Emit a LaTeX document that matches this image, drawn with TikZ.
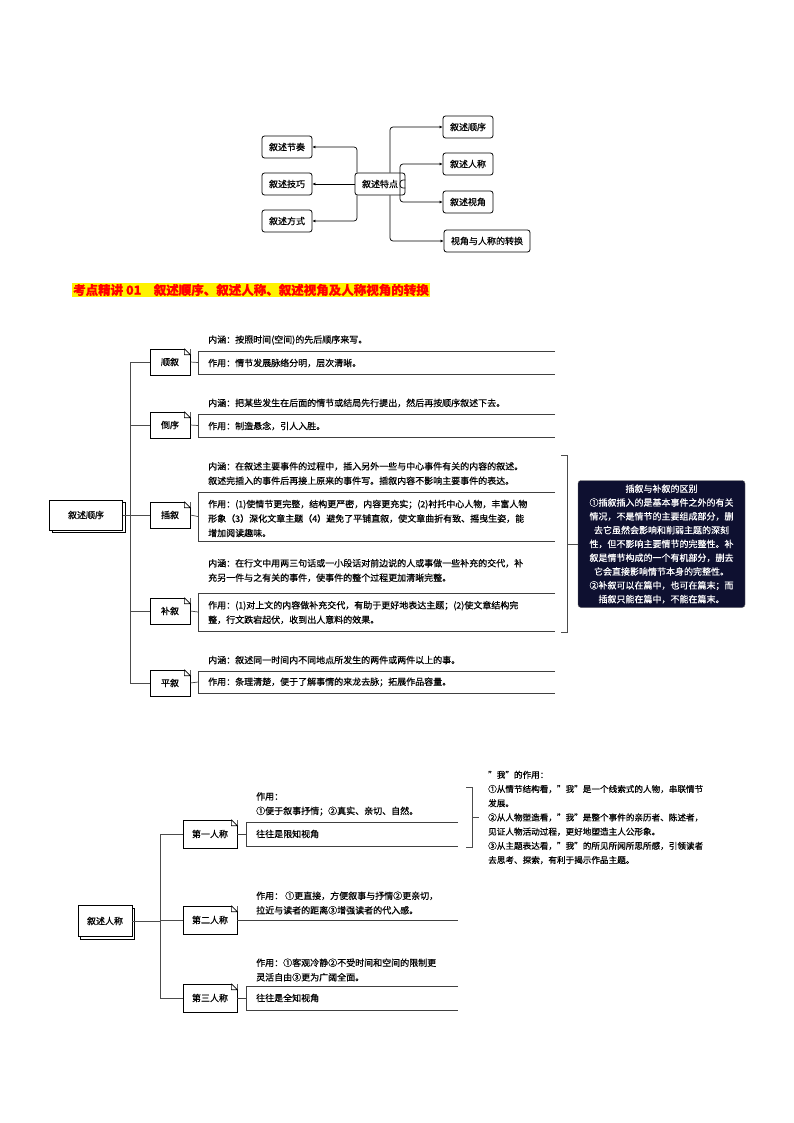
\documentclass[tikz,border=0pt]{standalone}
\usepackage{fontspec}
\setmainfont{Noto Sans CJK SC}[FakeBold=0.6]
\usetikzlibrary{shadows,arrows.meta}
\begin{document}
\begin{tikzpicture}[x=1pt,y=-1pt,
  rbox/.style={draw,rounded corners=2.5pt,line width=0.8pt,minimum height=22pt,inner xsep=7pt,font=\fontsize{9}{10}\selectfont},
  arr/.style={-{Latex[length=3pt,width=3pt]},line width=0.7pt},
  note/.style={draw,fill=white,minimum width=40pt,minimum height=26pt,font=\fontsize{9}{11}\selectfont,line width=0.6pt},
  stack/.style={draw,fill=white,copy shadow={shadow xshift=2.5pt,shadow yshift=-2.5pt},minimum width=73pt,minimum height=30pt,font=\fontsize{9}{11}\selectfont,line width=0.6pt},
  txt/.style={anchor=west,inner sep=0pt,align=left,font=\fontsize{9}{14.5}\selectfont},
  ln/.style={line width=0.7pt,draw=black!75},
  tr/.style={line width=0.7pt,draw=black!70}]
\useasboundingbox (0,0) rectangle (794,1123);
% ---- top mindmap
\node[rbox] (c) at (380,184) {叙述特点};
\node[rbox] (l1) at (287,147) {叙述节奏};
\node[rbox] (l2) at (287,184) {叙述技巧};
\node[rbox] (l3) at (287,221) {叙述方式};
\node[rbox] (r1) at (468,127) {叙述顺序};
\node[rbox] (r2) at (468,164) {叙述人称};
\node[rbox] (r3) at (468,202) {叙述视角};
\node[rbox] (r4) at (487,241) {视角与人称的转换};
\draw[arr,rounded corners=3pt] (c.north -| 357,0) |- (l1.east);
\draw[arr] (c.west) -- (l2.east);
\draw[arr,rounded corners=3pt] (c.south -| 357,0) |- (l3.east);
\draw[arr,rounded corners=3pt] (c.north -| 390,0) |- (r1.west);
\draw[arr,rounded corners=3pt] ([yshift=-4]c.east) -| (400,164) -- (r2.west);
\draw[arr,rounded corners=3pt] ([yshift=4]c.east) -| (400,202) -- (r3.west);
\draw[arr,rounded corners=3pt] (c.south -| 390,0) |- (r4.west);
% ---- header
\node[anchor=west,fill=yellow,text=red,inner sep=1pt,font=\fontsize{12.5}{14}\selectfont\bfseries] (hd) at (72,290) {考点精讲 01\quad 叙述顺序、叙述人称、叙述视角及人称视角的转换};
% ---- section 2
\node[stack] (s) at (86,515) {叙述顺序};
\foreach \n/\t/\y in {a/顺叙/362,b/倒序/425,d/插叙/515,e/补叙/611,f/平叙/683}{
  \node[note] (\n) at (170,\y) {\t};
  \fill[white] ([xshift=-6]\n.north east) -- (\n.north east) -- ([yshift=-6]\n.north east) -- cycle;
  \draw[line width=0.6pt] ([xshift=-6]\n.north east) -- ([xshift=-6,yshift=-6]\n.north east) -- ([yshift=-6]\n.north east) -- ([xshift=-6]\n.north east);
}
\coordinate (tk) at (130,0);
\draw[tr] (s.east) -- (s.east -| tk);
\draw[tr] (tk |- a) -- (tk |- f);
\foreach \n in {a,b,d,e,f}{\draw[tr] (tk |- \n) -- (\n.west);}
\newcommand{\blk}[4]{%
  \draw[ln] (#1.east) -- (198,#2 / 2 + #3 / 2);
  \draw[ln] (555,#2) -- (198,#2) -- (198,#3) -- (555,#3);}
\blk{a}{351}{374}{}
\blk{b}{414}{437}{}
\blk{d}{492}{541}{}
\blk{e}{593}{631}{}
\blk{f}{671}{693}{}
\node[txt] (a1) at (208,340) {内涵：按照时间(空间)的先后顺序来写。};
\node[txt] (a2) at (208,363) {作用：情节发展脉络分明，层次清晰。};
\node[txt] (b1) at (208,403) {内涵：把某些发生在后面的情节或结局先行提出，然后再按顺序叙述下去。};
\node[txt] (b2) at (208,426) {作用：制造悬念，引人入胜。};
\node[txt] (d1) at (208,473.5) {内涵：在叙述主要事件的过程中，插入另外一些与中心事件有关的内容的叙述。\\叙述完插入的事件后再接上原来的事件写。插叙内容不影响主要事件的表达。};
\node[txt] (d2) at (208,518.5) {作用：(1)使情节更完整，结构更严密，内容更充实；(2)衬托中心人物，丰富人物\\形象（3）深化文章主题（4）避免了平铺直叙，使文章曲折有致、摇曳生姿，能\\增加阅读趣味。};
\node[txt] (e1) at (208,570.5) {内涵：在行文中用两三句话或一小段话对前边说的人或事做一些补充的交代，补\\充另一件与之有关的事件，使事件的整个过程更加清晰完整。};
\node[txt] (e2) at (208,612.5) {作用：(1)对上文的内容做补充交代，有助于更好地表达主题；(2)使文章结构完\\整，行文跌宕起伏，收到出人意料的效果。};
\node[txt] (f1) at (208,660) {内涵：叙述同一时间内不同地点所发生的两件或两件以上的事。};
\node[txt] (f2) at (208,682) {作用：条理清楚，便于了解事情的来龙去脉；拓展作品容量。};
% bracket and dark box
\draw[tr] (561,455) -- (567,455) -- (567,632) -- (561,632);
\node[draw=black!60,fill={rgb,255:red,14;green,16;blue,48},text=white,rounded corners=3pt,minimum width=167pt,minimum height=127pt,align=center,inner sep=3pt,font=\fontsize{9}{13.8}\selectfont] (dk) at (661.5,544) {插叙与补叙的区别\\①插叙插入的是基本事件之外的有关\\情况，不是情节的主要组成部分，删\\去它虽然会影响和削弱主题的深刻\\性，但不影响主要情节的完整性。补\\叙是情节构成的一个有机部分，删去\\它会直接影响情节本身的完整性。\\②补叙可以在篇中，也可在篇末；而\\插叙只能在篇中，不能在篇末。};
\draw[tr] (567,544) -- (dk.west);
% ---- section 3
\node[stack,minimum width=54pt,minimum height=31pt] (p) at (105,921) {叙述人称};
\node[note,minimum width=54pt,minimum height=28pt] (p1) at (210,834) {第一人称};
\node[note,minimum width=54pt,minimum height=28pt] (p2) at (210,920) {第二人称};
\node[note,minimum width=54pt,minimum height=28pt] (p3) at (210,998) {第三人称};
\foreach \n in {p1,p2,p3}{
  \fill[white] ([xshift=-6]\n.north east) -- (\n.north east) -- ([yshift=-6]\n.north east) -- cycle;
  \draw[line width=0.6pt] ([xshift=-6]\n.north east) -- ([xshift=-6,yshift=-6]\n.north east) -- ([yshift=-6]\n.north east) -- ([xshift=-6]\n.north east);
}
\coordinate (tp) at (160,0);
\draw[tr] (p.east) -- (p.east -| tp);
\draw[tr] (tp |- p1) -- (tp |- p3);
\foreach \n in {p1,p3}{\draw[tr] (tp |- \n) -- (\n.west);}
\draw[tr] (p2.west -| tp) -- (p2.west);
\draw[ln] (p1.east) -- (246,834); \draw[ln] (458,822) -- (246,822) -- (246,846) -- (458,846);
\draw[ln] (p2.east) -- (458,920);
\draw[ln] (p3.east) -- (246,998); \draw[ln] (458,986) -- (246,986) -- (246,1010) -- (458,1010);
\node[txt] (q1) at (256,804) {作用：\\①便于叙事抒情；②真实、亲切、自然。};
\node[txt] (q2) at (256,834) {往往是限知视角};
\node[txt] (q3) at (256,903) {作用：\ ①更直接，方便叙事与抒情②更亲切，\\拉近与读者的距离③增强读者的代入感。};
\node[txt] (q4) at (256,970) {作用：①客观冷静②不受时间和空间的限制更\\灵活自由③更为广阔全面。};
\node[txt] (q5) at (256,998) {往往是全知视角};
\draw[tr] (466,787) -- (472,787) -- (472,847) -- (466,847);
\node[txt,font=\fontsize{8.6}{14.2}\selectfont] (w) at (488,817.5) {"我"的作用：\\①从情节结构看，"我"是一个线索式的人物，串联情节\\发展。\\②从人物塑造看，"我"是整个事件的亲历者、陈述者，\\见证人物活动过程，更好地塑造主人公形象。\\③从主题表达看，"我"的所见所闻所思所感，引领读者\\去思考、探索，有利于揭示作品主题。};
\draw[tr] (472,817) -- (479,817);
\end{tikzpicture}
\end{document}
